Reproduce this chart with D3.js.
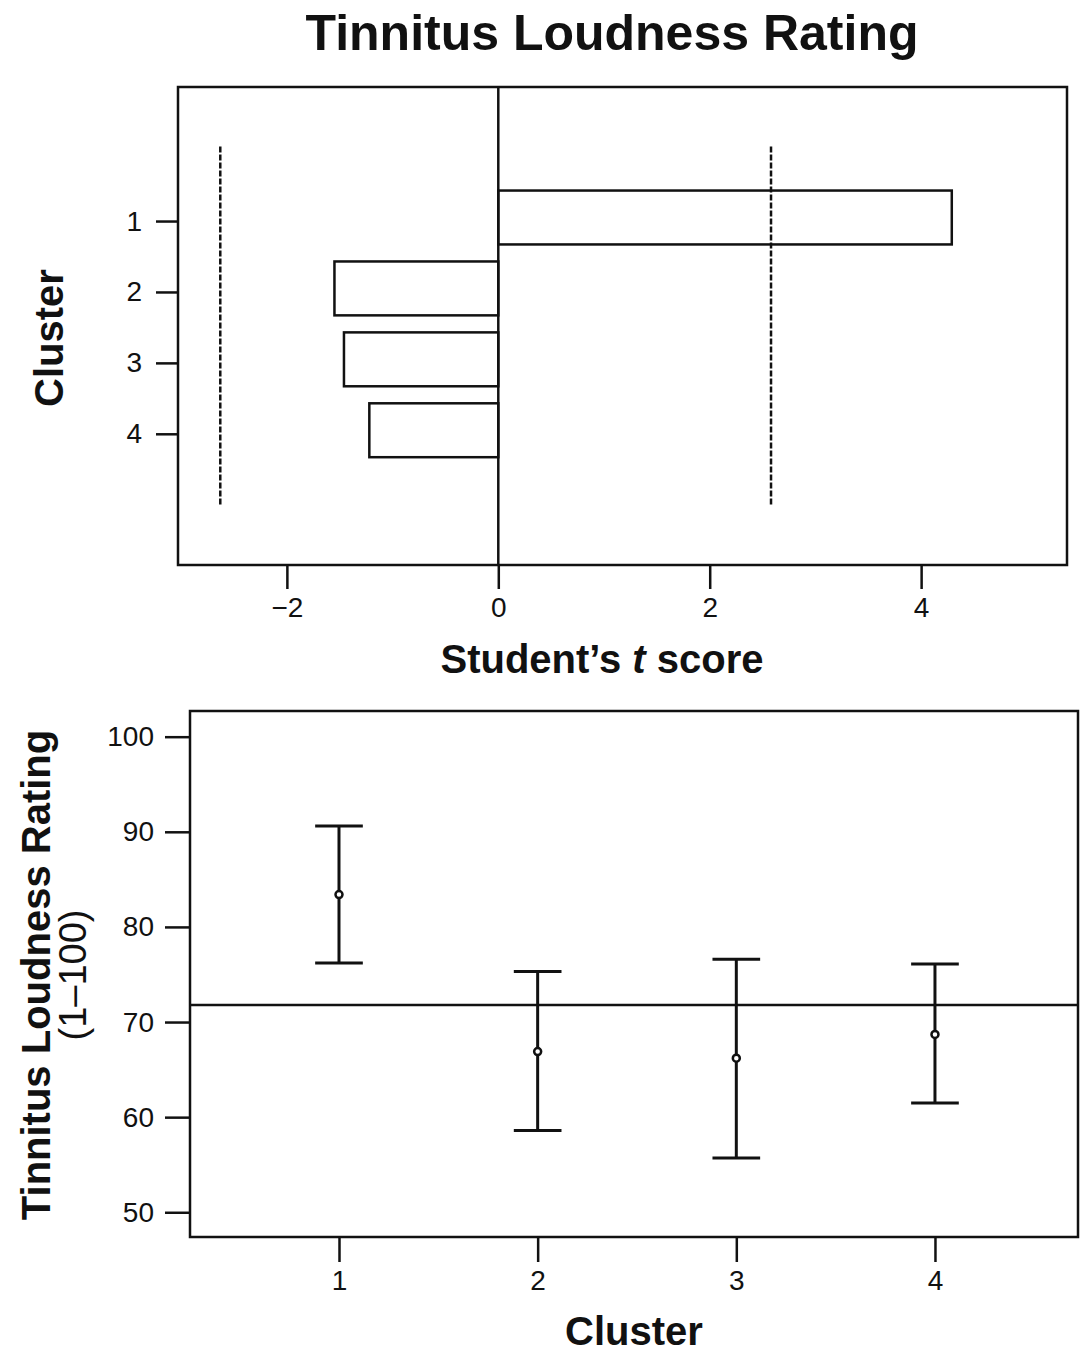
<!DOCTYPE html>
<html>
<head>
<meta charset="utf-8">
<script src="https://cdn.jsdelivr.net/npm/d3@7/dist/d3.min.js"></script>
<style>
  html, body { margin: 0; padding: 0; background: #fff; }
  svg { display: block; font-family: "Liberation Sans", Arial, Helvetica, sans-serif; }
</style>
</head>
<body>
<svg id="chart" width="1081" height="1353"></svg>
<script>
// ---- Data ----
const clusters = [1, 2, 3, 4];
const tScores = [4.29, -1.55, -1.46, -1.22];
const criticalT = [-2.63, 2.58];
const tTicks = [-2, 0, 2, 4];

const meanRating = [83.4, 66.9, 66.2, 68.7];
const upperCI = [90.6, 75.3, 76.6, 76.1];
const lowerCI = [76.2, 58.6, 55.7, 61.5];
const grandMean = 71.8;
const ratingTicks = [50, 60, 70, 80, 90, 100];

const mainTitle = "Tinnitus Loudness Rating";

// ---- Setup ----
const svg = d3.select("#chart");
const ink = "#111";
const intFmt = d3.format("d");

svg.append("text")
  .attr("x", 612).attr("y", 50)
  .attr("text-anchor", "middle")
  .attr("font-size", 50).attr("font-weight", "bold")
  .attr("fill", ink)
  .text(mainTitle);

// ================= TOP PANEL =================
const xT = d3.scaleLinear().domain([-3.03, 5.38]).range([178, 1067]);
const yT = d3.scaleLinear().domain([-0.89, 5.85]).range([87, 565]);
const topG = svg.append("g");

// frame
topG.append("rect")
  .attr("x", xT.range()[0]).attr("y", yT.range()[0])
  .attr("width", xT.range()[1] - xT.range()[0])
  .attr("height", yT.range()[1] - yT.range()[0])
  .attr("fill", "none").attr("stroke", ink).attr("stroke-width", 2.5);

// x axis
const xAxisT = d3.axisBottom(xT).tickValues(tTicks).tickSize(24).tickPadding(8)
  .tickFormat(d => d < 0 ? "\u2212" + Math.abs(d) : intFmt(d));
const gxT = topG.append("g").attr("transform", `translate(0,${yT.range()[1]})`).call(xAxisT);
gxT.select(".domain").remove();
gxT.selectAll("line").attr("stroke", ink).attr("stroke-width", 2.5);
gxT.selectAll("text").attr("font-size", 28).attr("fill", ink)
  .attr("font-family", "Liberation Sans, Arial, sans-serif");

// y axis
const yAxisT = d3.axisLeft(yT).tickValues(clusters).tickSize(22).tickPadding(14).tickFormat(intFmt);
const gyT = topG.append("g").attr("transform", `translate(${xT.range()[0]},0)`).call(yAxisT);
gyT.select(".domain").remove();
gyT.selectAll("line").attr("stroke", ink).attr("stroke-width", 2.5);
gyT.selectAll("text").attr("font-size", 28).attr("fill", ink)
  .attr("font-family", "Liberation Sans, Arial, sans-serif");

// zero line
topG.append("line")
  .attr("x1", xT(0)).attr("x2", xT(0))
  .attr("y1", yT.range()[0]).attr("y2", yT.range()[1])
  .attr("stroke", ink).attr("stroke-width", 2.5);

// critical t lines
topG.selectAll("line.crit").data(criticalT).join("line")
  .attr("class", "crit")
  .attr("x1", d => xT(d)).attr("x2", d => xT(d))
  .attr("y1", yT(-0.05)).attr("y2", yT(5))
  .attr("stroke", ink).attr("stroke-width", 2.5)
  .attr("stroke-dasharray", "6,2");

// bars
const halfBand = 0.38;
topG.selectAll("rect.bar").data(clusters).join("rect")
  .attr("class", "bar")
  .attr("x", (c, i) => Math.min(xT(0), xT(tScores[i])))
  .attr("width", (c, i) => Math.abs(xT(tScores[i]) - xT(0)))
  .attr("y", c => yT(c - 0.05 - halfBand))
  .attr("height", c => yT(c + halfBand) - yT(c - halfBand))
  .attr("fill", "none").attr("stroke", ink).attr("stroke-width", 2.5);

// axis titles
const xTitle = topG.append("text")
  .attr("x", 602).attr("y", 673)
  .attr("text-anchor", "middle")
  .attr("font-size", 40).attr("font-weight", "bold").attr("fill", ink);
xTitle.append("tspan").text("Student\u2019s ");
xTitle.append("tspan").attr("font-style", "italic").text("t");
xTitle.append("tspan").text(" score");

topG.append("text")
  .attr("transform", "translate(63,338) rotate(-90)")
  .attr("text-anchor", "middle")
  .attr("font-size", 40).attr("font-weight", "bold").attr("fill", ink)
  .text("Cluster");

// ================= BOTTOM PANEL =================
const xB = d3.scaleLinear().domain([0.25, 4.72]).range([190, 1078]);
const yB = d3.scaleLinear().domain([47.4, 102.7]).range([1237, 711]);
const botG = svg.append("g");

botG.append("rect")
  .attr("x", xB.range()[0]).attr("y", yB.range()[1])
  .attr("width", xB.range()[1] - xB.range()[0])
  .attr("height", yB.range()[0] - yB.range()[1])
  .attr("fill", "none").attr("stroke", ink).attr("stroke-width", 2.5);

const xAxisB = d3.axisBottom(xB).tickValues(clusters).tickSize(25).tickPadding(8).tickFormat(intFmt);
const gxB = botG.append("g").attr("transform", `translate(0,${yB.range()[0]})`).call(xAxisB);
gxB.select(".domain").remove();
gxB.selectAll("line").attr("stroke", ink).attr("stroke-width", 2.5);
gxB.selectAll("text").attr("font-size", 28).attr("fill", ink)
  .attr("font-family", "Liberation Sans, Arial, sans-serif");

const yAxisB = d3.axisLeft(yB).tickValues(ratingTicks).tickSize(25).tickPadding(11).tickFormat(intFmt);
const gyB = botG.append("g").attr("transform", `translate(${xB.range()[0]},0)`).call(yAxisB);
gyB.select(".domain").remove();
gyB.selectAll("line").attr("stroke", ink).attr("stroke-width", 2.5);
gyB.selectAll("text").attr("font-size", 28).attr("fill", ink)
  .attr("font-family", "Liberation Sans, Arial, sans-serif");

// grand mean line
botG.append("line")
  .attr("x1", xB.range()[0]).attr("x2", xB.range()[1])
  .attr("y1", yB(grandMean)).attr("y2", yB(grandMean))
  .attr("stroke", ink).attr("stroke-width", 2.5);

// error bars
const capHalf = 0.12;
const eb = botG.selectAll("g.eb").data(clusters).join("g").attr("class", "eb");
eb.append("line")
  .attr("x1", c => xB(c)).attr("x2", c => xB(c))
  .attr("y1", (c, i) => yB(upperCI[i])).attr("y2", (c, i) => yB(lowerCI[i]))
  .attr("stroke", ink).attr("stroke-width", 3);
eb.append("line")
  .attr("x1", c => xB(c - capHalf)).attr("x2", c => xB(c + capHalf))
  .attr("y1", (c, i) => yB(upperCI[i])).attr("y2", (c, i) => yB(upperCI[i]))
  .attr("stroke", ink).attr("stroke-width", 3);
eb.append("line")
  .attr("x1", c => xB(c - capHalf)).attr("x2", c => xB(c + capHalf))
  .attr("y1", (c, i) => yB(lowerCI[i])).attr("y2", (c, i) => yB(lowerCI[i]))
  .attr("stroke", ink).attr("stroke-width", 3);
eb.append("circle")
  .attr("cx", c => xB(c)).attr("cy", (c, i) => yB(meanRating[i]))
  .attr("r", 3.5)
  .attr("fill", "#fff").attr("stroke", ink).attr("stroke-width", 2.5);

botG.append("text")
  .attr("x", 634).attr("y", 1345)
  .attr("text-anchor", "middle")
  .attr("font-size", 40).attr("font-weight", "bold").attr("fill", ink)
  .text("Cluster");

const yLab = botG.append("g").attr("transform", "translate(0,975) rotate(-90)");
yLab.append("text")
  .attr("x", 0).attr("y", 50)
  .attr("text-anchor", "middle")
  .attr("font-size", 40).attr("font-weight", "bold").attr("fill", ink)
  .text("Tinnitus Loudness Rating");
yLab.append("text")
  .attr("x", 0).attr("y", 86)
  .attr("text-anchor", "middle")
  .attr("font-size", 38).attr("fill", ink)
  .text("(1\u2013100)");
</script>
</body>
</html>
